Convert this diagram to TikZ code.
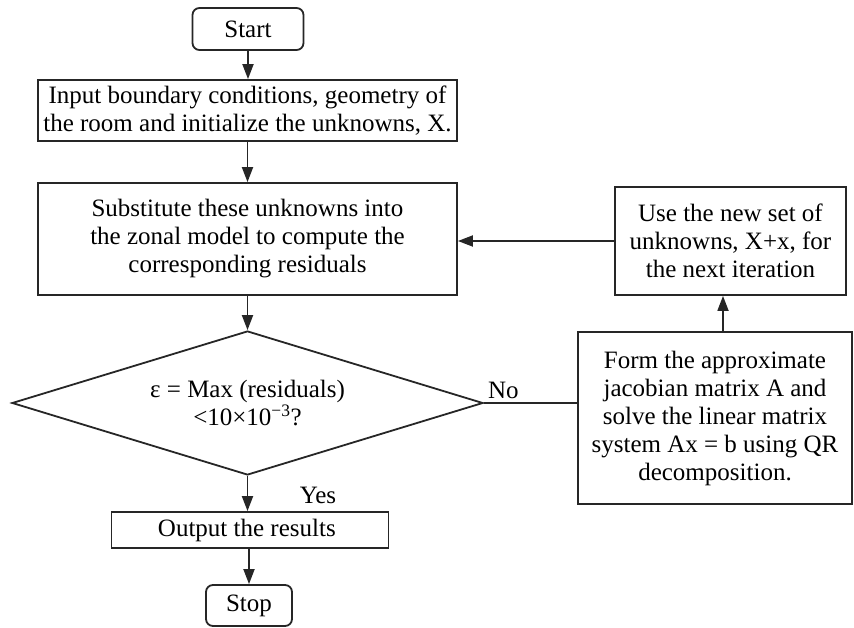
\documentclass[tikz,border=0pt]{standalone}
\usepackage{fontspec}
\setmainfont{Liberation Serif}
\usetikzlibrary{shapes.geometric, arrows.meta, positioning}
\tikzset{
  flow_font/.style = {font=\fontsize{25}{28}\selectfont},
  outline/.style = {draw=black!85, line width=1.8pt},
  process/.style = {flow_font, outline, align=center, inner sep=0pt},
  terminal/.style = {process, rounded corners=7pt},
  decision/.style = {flow_font, outline, diamond, aspect=3.27, align=center, inner sep=0pt},
  flow_line/.style = {outline},
  flow_arrow/.style = {flow_line, -{Triangle[length=15pt, width=11pt]}},
  side_label/.style = {flow_font, inner sep=0pt}
}

\begin{document}
\begin{tikzpicture}[x=1pt, y=1pt]
    \useasboundingbox (0,0) rectangle (854,-628);

    % Main column
    \node[terminal, minimum width=111, minimum height=42] at (248,-29) (start) {Start};
    \node[process, minimum width=419, minimum height=61] at (247.5,-110.5) (input) {
        Input boundary conditions, geometry of\\
        the room and initialize the unknowns, X.
        };
    \node[process, minimum width=419, minimum height=112] at (247.5,-239) (subst) {
        Substitute these unknowns into\\
        the zonal model to compute the\\
        corresponding residuals
        };
    \node[decision, minimum width=471, minimum height=144] at (247.5,-403) (check) {
        ε = Max (residuals)\\
        <10×10\textsuperscript{−3}?
        };
    \node[process, minimum width=277, minimum height=36] at (250,-530) (output) {
        Output the results
        };
    \node[terminal, minimum width=86, minimum height=41] at (249,-605.5) (stop) {Stop};

    % Iteration branch
    \node[process, minimum width=274, minimum height=172] at (715,-418) (jacobian) {
        Form the approximate\\
        jacobian matrix A and\\
        solve the linear matrix\\
        system Ax = b using QR\\
        decomposition.
        };
    \node[process, minimum width=231, minimum height=108] at (730.5,-241) (update) {
        Use the new set of\\
        unknowns, X+x, for\\
        the next iteration
        };

    % Labels
    \node[side_label, anchor=south west] at ([xshift=4pt, yshift=4pt]check.east) (no) {No};
    \node[side_label] at (318,-495) (yes) {Yes};

    % Arrows and lines
    \draw[flow_arrow] (start)--(start |- input.north);
    \draw[flow_arrow] (input)--(subst);
    \draw[flow_arrow] (subst)--(check);
    \draw[flow_arrow] (check.south)--(check.south |- output.north);
    \draw[flow_arrow] (output.south -| stop)--(stop);
    \draw[flow_line] (check.east)--(jacobian.west |- check.east);
    \draw[flow_arrow] (jacobian.north -| 723,0)--(update.south -| 723,0);
    \draw[flow_arrow] (update.west)--(subst.east |- update.west);
\end{tikzpicture}
\end{document}
